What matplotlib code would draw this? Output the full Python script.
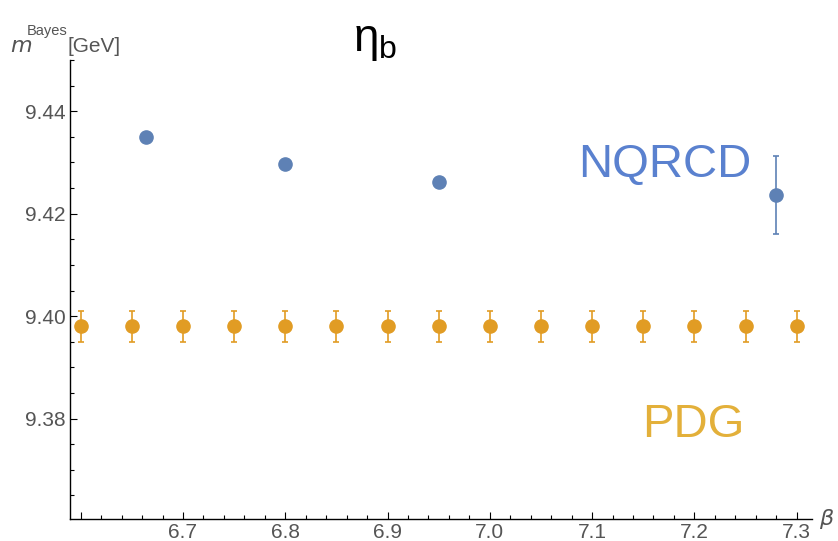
import matplotlib.pyplot as plt
from matplotlib.ticker import MultipleLocator, FuncFormatter

plt.rcParams['font.family'] = ['Liberation Sans', 'DejaVu Sans']

# NQRCD lattice results
beta_nqrcd = [6.664, 6.8, 6.95, 7.28]
m_nqrcd = [9.4349, 9.4297, 9.4262, 9.4237]
err_nqrcd = [0.0003, 0.0003, 0.0004, 0.0076]

# PDG value repeated across beta
beta_pdg = [6.6, 6.65, 6.7, 6.75, 6.8, 6.85, 6.9, 6.95, 7.0, 7.05, 7.1, 7.15, 7.2, 7.25, 7.3]
m_pdg = [9.398] * len(beta_pdg)
err_pdg = [0.003] * len(beta_pdg)

blue = '#5E81B5'
orange = '#E19C24'
gray = '#555555'

fig = plt.figure(figsize=(8.38, 5.41), dpi=100)
ax = fig.add_axes([0.0835, 0.0407, 0.8855, 0.8483])

ax.errorbar(beta_pdg, m_pdg, yerr=err_pdg, fmt='o', color=orange, ms=9.5,
            elinewidth=1.2, capsize=2.5, capthick=1.2)
ax.errorbar(beta_nqrcd, m_nqrcd, yerr=err_nqrcd, fmt='o', color=blue, ms=9.5,
            elinewidth=1.2, capsize=2.5, capthick=1.2)

ax.set_xlim(6.5895, 7.315)
ax.set_ylim(9.3604, 9.45)

# Mathematica leaves the labels off at the axis origin
ax.xaxis.set_major_locator(MultipleLocator(0.1))
ax.xaxis.set_minor_locator(MultipleLocator(0.02))
ax.yaxis.set_major_locator(MultipleLocator(0.02))
ax.yaxis.set_minor_locator(MultipleLocator(0.005))
ax.xaxis.set_major_formatter(FuncFormatter(lambda v, p: '' if v < 6.65 else f'{v:.1f}'))
ax.yaxis.set_major_formatter(FuncFormatter(lambda v, p: '' if v < 9.37 else f'{v:.2f}'))

ax.tick_params(which='both', direction='in', colors='black', labelcolor=gray,
               labelsize=15, width=0.8)
ax.tick_params(which='major', length=5)
ax.tick_params(which='minor', length=3)
ax.tick_params(axis='y', pad=3)
ax.tick_params(axis='x', pad=3)
ax.spines['top'].set_visible(False)
ax.spines['right'].set_visible(False)
ax.spines['left'].set_linewidth(1.0)
ax.spines['bottom'].set_linewidth(1.0)

fig.text(0.012, 0.903, r'$m$', fontsize=16, color=gray, ha='left', va='baseline')
fig.text(0.032, 0.936, 'Bayes', fontsize=10.5, color=gray, ha='left', va='baseline')
fig.text(0.081, 0.903, '[GeV]', fontsize=15, color=gray, ha='left', va='baseline')
fig.text(0.986, 0.04, r'$\beta$', fontsize=16, color=gray, ha='center', va='center')

fig.text(0.448, 0.925, r'$\mathregular{\eta_b}$', fontsize=33, ha='center', va='center')

ax.text(7.171, 9.4295, 'NQRCD', fontsize=34, color='#5A81CF', ha='center', va='center')
ax.text(7.199, 9.3787, 'PDG', fontsize=34, color='#E3B03A', ha='center', va='center')

fig.savefig('out.png', dpi=100)
